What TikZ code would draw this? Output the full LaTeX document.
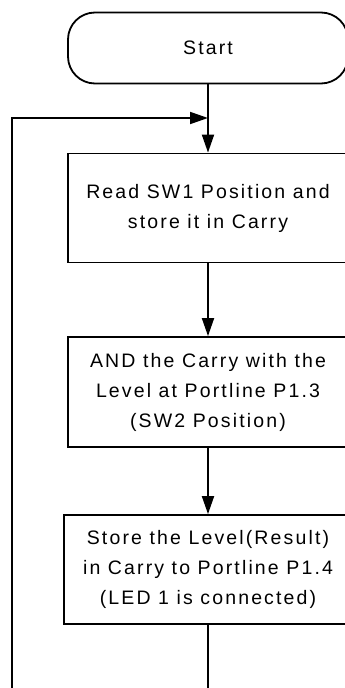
\documentclass[tikz,border=0pt]{standalone}
\usepackage{fontspec}
\setmainfont{Liberation Sans}[LetterSpace=11]
\usetikzlibrary{arrows.meta}
\begin{document}
\begin{tikzpicture}[x=1pt, y=-1pt, line width=1.8pt,
  every node/.style={font=\fontsize{19.5pt}{30pt}\selectfont, inner sep=0pt},
  terminal/.style={draw, rectangle, rounded corners=27pt, minimum width=280pt, minimum height=71pt},
  procbox/.style={draw, rectangle, align=center, minimum height=109pt},
  flow/.style={-{Triangle[length=18pt, width=12pt]}}]
\useasboundingbox (0,0) rectangle (345,688);
\clip (0,0) rectangle (345,688);

% terminal and process boxes
\node[terminal] (start) at (208,48) {Start};
\node[procbox, minimum width=280pt] (read) at (208,208)
  {Read SW1 Position and\\store it in Carry};
\node[procbox, minimum width=280pt, minimum height=110pt] (andop) at (208,392)
  {AND the Carry with the\\Level at Portline P1.3\\(SW2 Position)};
\node[procbox, minimum width=288pt] (store) at (208,569.5)
  {Store the Level(Result)\\in Carry to Portline P1.4\\(LED 1 is connected)};

% loop coordinates
\coordinate (join) at (208,118);
\coordinate (exitbot) at (208,700);
\coordinate (loopbot) at (12,700);
\coordinate (looptop) at (12,118);

% connectors
\draw[flow] (start) -- (read);
\draw[flow] (read) -- (andop);
\draw[flow] (andop) -- (store);
\draw[flow] (store.south) -- (exitbot) -- (loopbot) -- (looptop) -- (join);
\end{tikzpicture}
\end{document}
